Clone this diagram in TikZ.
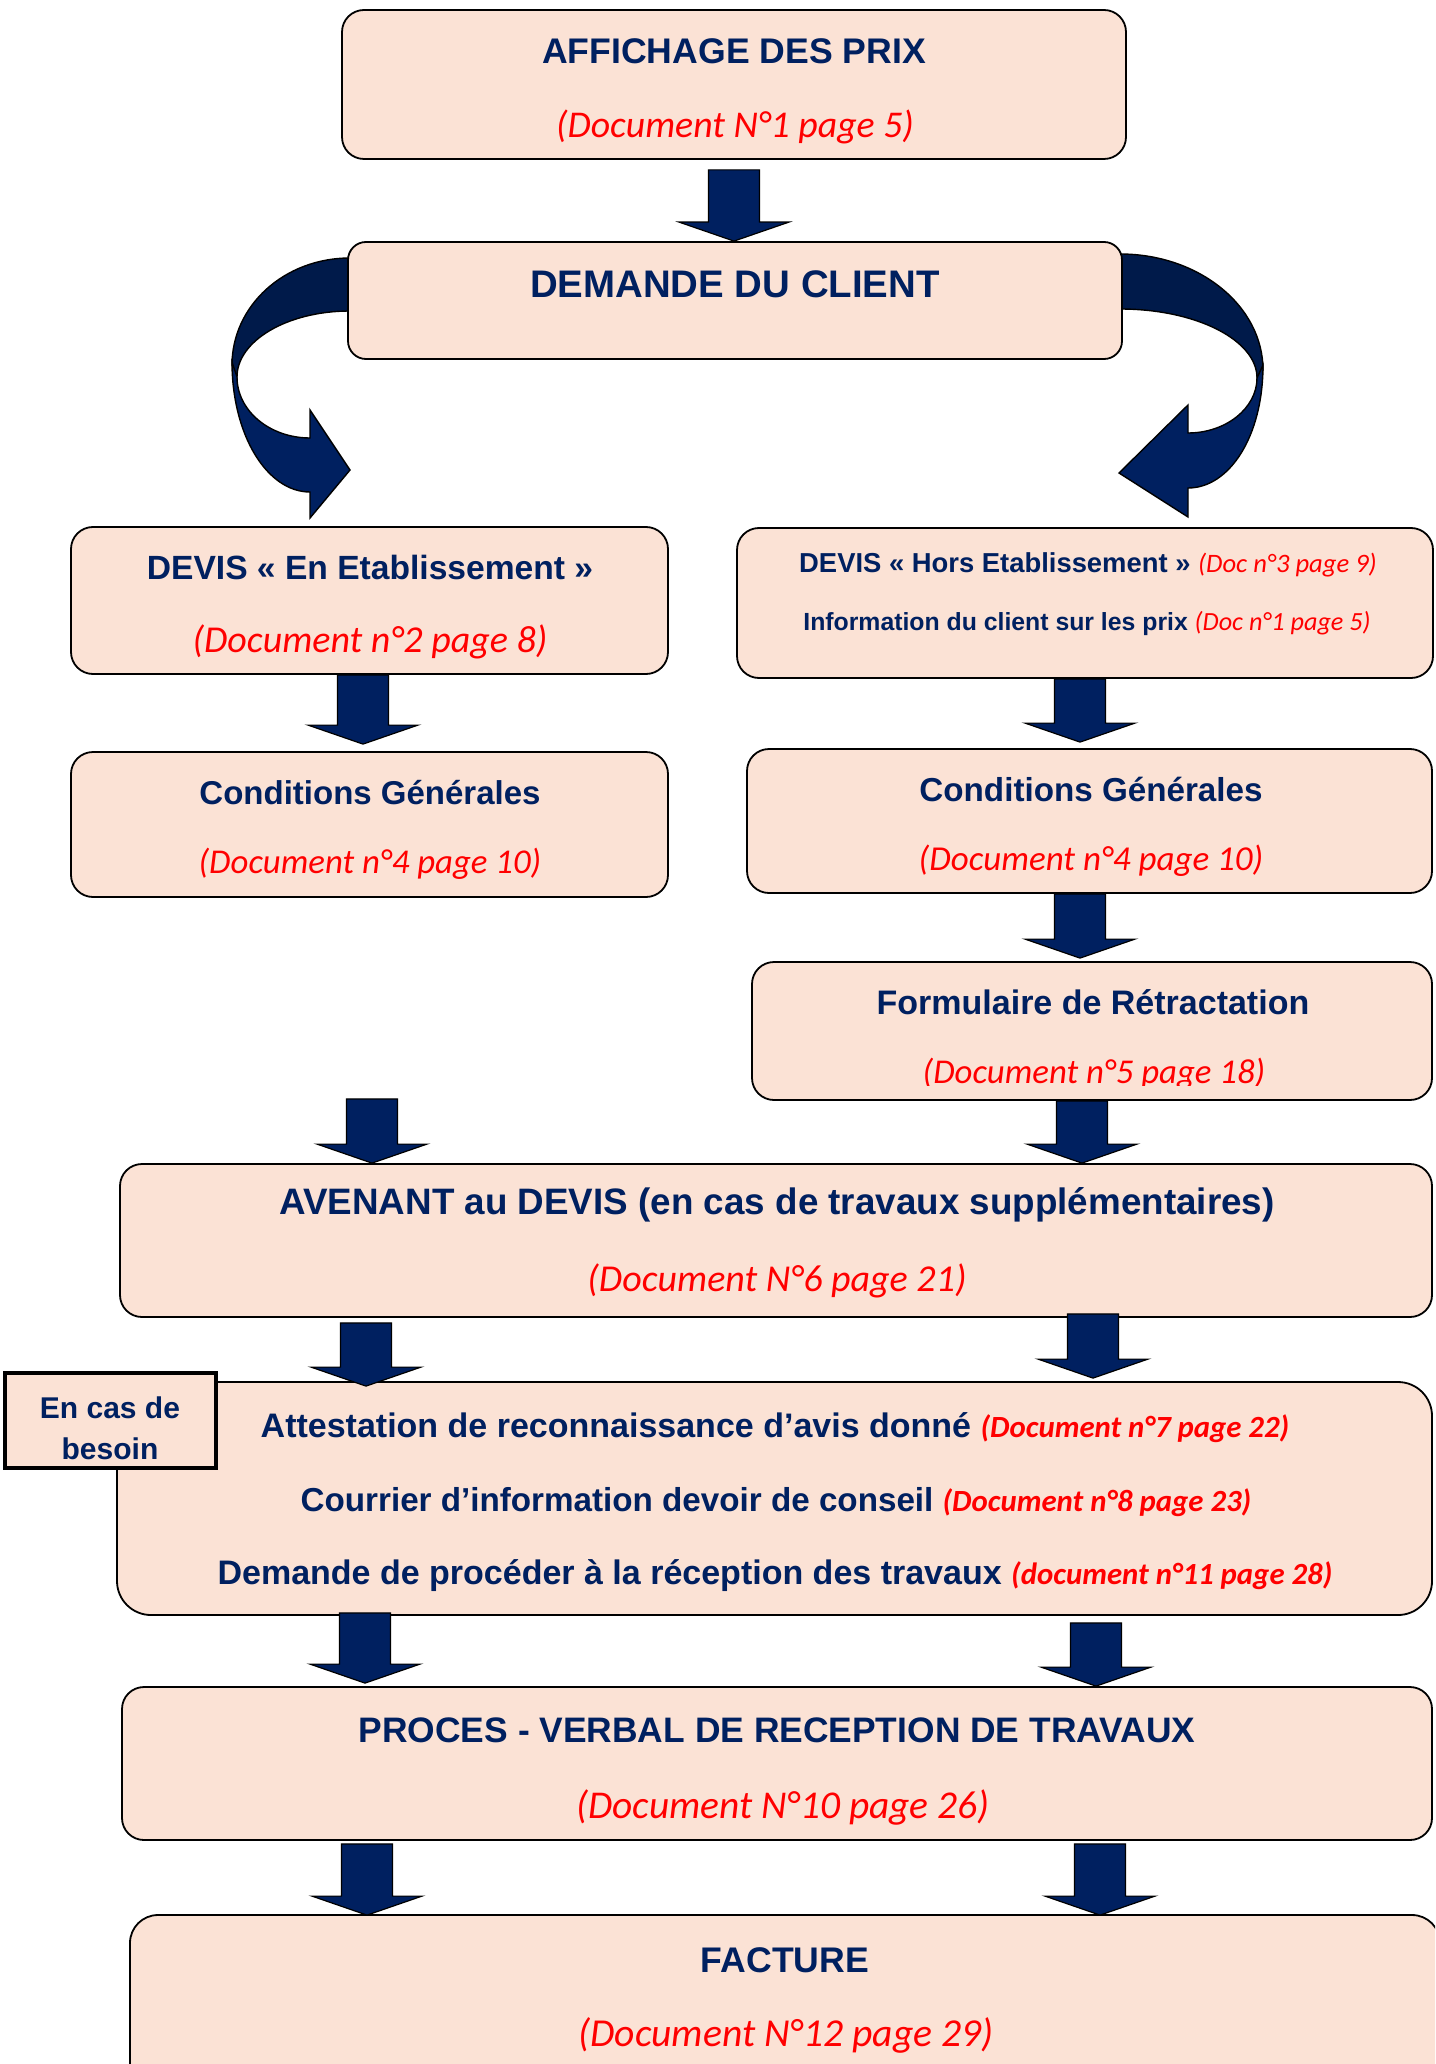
\documentclass[tikz,border=0pt]{standalone}
\usepackage{fontspec}
\setmainfont{Liberation Sans}
\newfontfamily\carl{Carlito}
\usetikzlibrary{calc,fit}
\definecolor{peach}{RGB}{251,226,213}
\definecolor{navy}{RGB}{0,32,96}
\definecolor{darknavy}{RGB}{0,26,74}
\definecolor{docred}{RGB}{255,0,0}
\newcommand\fsz[1]{\fontsize{#1}{#1}\selectfont}
\tikzset{
  box/.style={draw=black, line width=0.9pt, fill=peach, rounded corners=11pt, inner sep=0pt},
  squarebox/.style={draw=black, line width=1.8pt, fill=peach, inner sep=0pt},
  ttl/.style={text=navy, inner sep=0pt},
  doc/.style={text=docred, inner sep=0pt},
  fatarr/.style={draw=black, line width=0.6pt, fill=navy, line join=miter},
  curvdark/.style={draw=black, line width=0.7pt, fill=darknavy},
  curvnavy/.style={draw=black, line width=0.7pt, fill=navy},
}
% block arrow: x, from node, gap below it (px), to node, overlap into it (px)
\newcommand\fatarrow[5]{%
  \path[fatarr] let \p1=($(#2.south -| #1,0)+(0,#3)$), \p2=($(#4.north -| #1,0)+(0,#5)$) in
    (\x1-12.75pt,\y1) -- (\x1+12.75pt,\y1) -- (\x1+12.75pt,\y2+9.5pt) -- (\x1+27.5pt,\y2+9.5pt)
    -- (\x1,\y2) -- (\x1-27.5pt,\y2+9.5pt) -- (\x1-12.75pt,\y2+9.5pt) -- cycle;}
\newcommand\reddoc[2]{{\color{docred}\carl\itshape\fsz{#1}#2}}
\newcommand\reddocm[2]{{\color{docred}\carl\mdseries\itshape\fsz{#1}#2}}
\begin{document}
\begin{tikzpicture}[x=0.5pt,y=-0.5pt]
\useasboundingbox (0,0) rectangle (1435,2064);
\clip (0,0) rectangle (1435,2064);

% curved arrows from DEMANDE DU CLIENT
\path[curvdark] (350,258) .. controls (284,258) and (232,306) .. (232,365) -- (237,377)
  .. controls (237,341) and (287,311) .. (350,311) -- cycle;
\path[curvnavy] (232,362) .. controls (232,435) and (267,492) .. (310,492) -- (310,518) -- (350,470)
  -- (310,410) -- (310,438) .. controls (270,438) and (237,411) .. (237,377) -- cycle;
\path[curvdark] (1120,254) .. controls (1199,254) and (1263,306) .. (1263,370) -- (1257,378)
  .. controls (1257,340) and (1196,309) .. (1120,309) -- cycle;
\path[curvnavy] (1263,365) .. controls (1263,437) and (1229,488) .. (1188,488) -- (1188,517) -- (1119,473)
  -- (1188,405) -- (1188,433) .. controls (1226,433) and (1257,408) .. (1257,378) -- cycle;

% boxes
\node[box, fit={(342,10) (1126,159)}] (b1) {};
\node[box, rounded corners=9pt, fit={(348,242) (1122,359)}] (b2) {};
\node[box, fit={(71,527) (668,674)}] (b3L) {};
\node[box, fit={(737,528) (1433,678)}] (b3R) {};
\node[box, fit={(71,752) (668,897)}] (b4L) {};
\node[box, fit={(747,749) (1432,893)}] (b4R) {};
\node[box, fit={(752,962) (1432,1100)}] (b5) {};
\node[box, fit={(120,1164) (1432,1317)}] (b6) {};
\node[box, rounded corners=17pt, fit={(117,1382) (1432,1615)}] (b7) {};
\node[box, fit={(122,1687) (1432,1840)}] (b8) {};
\node[box, rounded corners=14pt, fit={(130,1915) (1440,2110)}] (b9) {};
\node[squarebox, fit={(5,1373) (216,1468)}] (bx) {};

% texts
\node[ttl, font=\bfseries\fsz{17.8}] (t1a) at (734,51) {AFFICHAGE DES PRIX};
\node[doc, font=\carl\itshape\fsz{18.9}] (t1b) at (735,127) {(Document N°1 page 5)};
\node[ttl, font=\bfseries\fsz{19.2}] (t2) at (735,284) {DEMANDE DU CLIENT};
\node[ttl, font=\bfseries\fsz{16.8}] (t3La) at (370,567) {DEVIS « En Etablissement »};
\node[doc, font=\carl\itshape\fsz{19}] (t3Lb) at (370,642) {(Document n°2 page 8)};
\node[ttl, font=\bfseries\fsz{13.7}] (t3Ra) at (1088,565) {DEVIS « Hors Etablissement » \reddocm{13.3}{(Doc n°3 page 9)}};
\node[ttl, font=\bfseries\fsz{12.4}] (t3Rb) at (1087,624) {Information du client sur les prix \reddocm{13.1}{(Doc n°1 page 5)}};
\node[ttl, font=\bfseries\fsz{16.5}] (t4La) at (370,793) {Conditions Générales};
\node[doc, font=\carl\itshape\fsz{17.4}] (t4Lb) at (370,864) {(Document n°4 page 10)};
\node[ttl, font=\bfseries\fsz{16.6}] (t4Ra) at (1091,789) {Conditions Générales};
\node[doc, font=\carl\itshape\fsz{17.5}] (t4Rb) at (1091,861) {(Document n°4 page 10)};
\node[ttl, font=\bfseries\fsz{17}] (t5a) at (1093,1002) {Formulaire de Rétractation};
\begin{scope}
  \clip (752,962) rectangle (1432,1085);
  \node[doc, anchor=base, font=\carl\itshape\fsz{17.4}] (t5b) at (1094,1083) {(Document n°5 page 18)};
\end{scope}
\node[ttl, font=\bfseries\fsz{18.4}] (t6a) at (777,1205) {AVENANT au DEVIS (en cas de travaux supplémentaires)};
\node[doc, font=\carl\itshape\fsz{19}] (t6b) at (777,1281) {(Document N°6 page 21)};
\node[ttl, font=\bfseries\fsz{17}] (t7a) at (775,1428) {Attestation de reconnaissance d’avis donné \reddoc{15.4}{(Document n°7 page 22)}};
\node[ttl, font=\bfseries\fsz{16.6}] (t7b) at (776,1502) {Courrier d’information devoir de conseil \reddoc{15.4}{(Document n°8 page 23)}};
\node[ttl, font=\bfseries\fsz{17}] (t7c) at (775,1576) {Demande de procéder à la réception des travaux \reddoc{15.4}{(document n°11 page 28)}};
\node[ttl, font=\bfseries\fontsize{15}{20.5}\selectfont, align=center] (tx) at (110,1428) {En cas de\\besoin};
\node[ttl, font=\bfseries\fsz{17.7}] (t8a) at (777,1730) {PROCES - VERBAL DE RECEPTION DE TRAVAUX};
\node[doc, font=\carl\itshape\fsz{19.7}] (t8b) at (783,1807) {(Document N°10 page 26)};
\node[ttl, font=\bfseries\fsz{17.8}] (t9a) at (785,1960) {FACTURE};
\node[doc, font=\carl\itshape\fsz{19.8}] (t9b) at (786,2035) {(Document N°12 page 29)};

% block arrows
\fatarrow{734}{b1}{10}{b2}{0}
\fatarrow{363}{b3L}{0}{b4L}{-7}
\fatarrow{1080}{b3R}{0}{b4R}{-6}
\fatarrow{1080}{b4R}{0}{b5}{-3}
\fatarrow{372}{b5}{-2}{b6}{0}
\fatarrow{1082}{b5}{0}{b6}{0}
\fatarrow{366}{b6}{5}{b7}{5}
\fatarrow{1093}{b6}{-4}{b7}{-3}
\fatarrow{365}{b7}{-3}{b8}{-3}
\fatarrow{1096}{b7}{7}{b8}{0}
\fatarrow{367}{b8}{3}{b9}{1}
\fatarrow{1100}{b8}{3}{b9}{1}
\end{tikzpicture}
\end{document}
